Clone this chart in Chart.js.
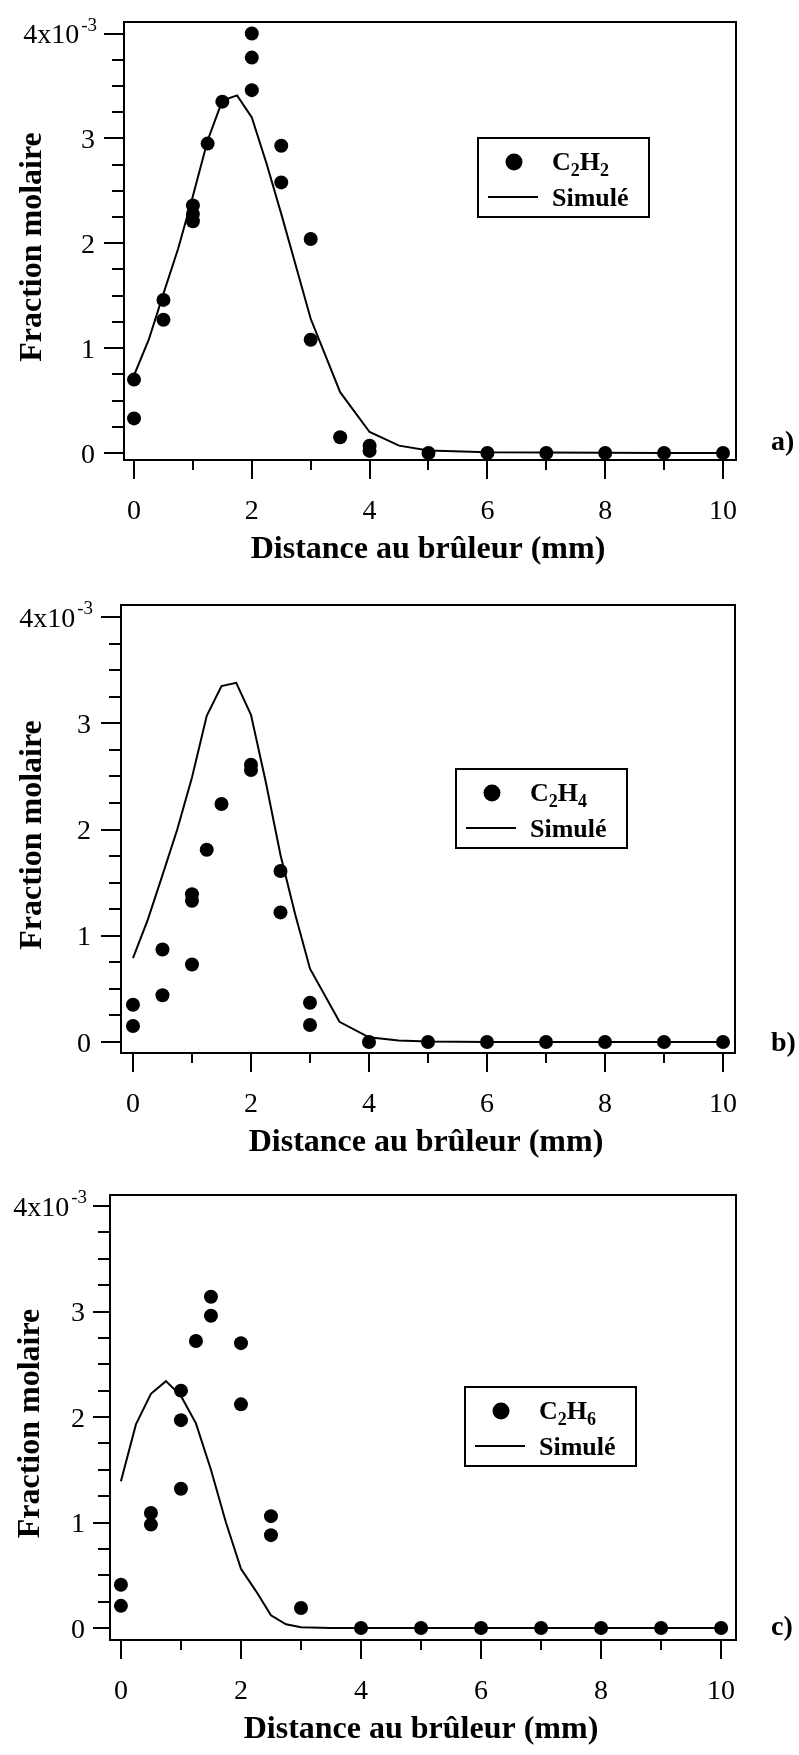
<!DOCTYPE html>
<html><head><meta charset="utf-8">
<script src="https://cdn.jsdelivr.net/npm/chart.js@4.4.0/dist/chart.umd.min.js"></script>
<style>
html,body{margin:0;padding:0;background:#fff;}
body{width:799px;height:1755px;position:relative;overflow:hidden;}
canvas{position:absolute;left:0;}
</style></head><body>
<canvas id="ca" width="799" height="587" style="top:0px"></canvas>
<canvas id="cb" width="799" height="586" style="top:587px"></canvas>
<canvas id="cc" width="799" height="582" style="top:1173px"></canvas>
<script>
// ---------- tick definitions ----------
const xTicksMajor = [0, 2, 4, 6, 8, 10];
const xTickLabels = ['0', '2', '4', '6', '8', '10'];
const xTicksMinor = [1, 3, 5, 7, 9];
const yTicksMajor = [0, 1e-3, 2e-3, 3e-3, 4e-3];
const yTickLabels = ['0', '1', '2', '3', '4x10'];
const yTickSup = ['', '', '', '', '-3'];
const yTicksMinor = [0.25e-3, 0.5e-3, 0.75e-3, 1.25e-3, 1.5e-3, 1.75e-3, 2.25e-3, 2.5e-3, 2.75e-3, 3.25e-3, 3.5e-3, 3.75e-3];

const xTitle = 'Distance au brûleur (mm)';
const yTitle = 'Fraction molaire';
const simLabel = 'Simulé';

// ---------- simulated profiles (common x grid) ----------
const simX = [0, 0.25, 0.5, 0.75, 1, 1.25, 1.5, 1.75, 2, 2.25, 2.5, 2.75, 3, 3.5, 4, 4.5, 5, 6, 7, 8, 9, 10];
const simC2H2 = [0.74e-3, 1.08e-3, 1.52e-3, 1.95e-3, 2.45e-3, 2.98e-3, 3.36e-3, 3.41e-3, 3.20e-3, 2.76e-3, 2.28e-3, 1.78e-3, 1.28e-3, 0.58e-3, 0.20e-3, 0.07e-3, 0.025e-3, 0.008e-3, 0.004e-3, 0.002e-3, 0.001e-3, 0];
const simC2H4 = [0.79e-3, 1.15e-3, 1.57e-3, 2.00e-3, 2.49e-3, 3.07e-3, 3.35e-3, 3.38e-3, 3.08e-3, 2.45e-3, 1.76e-3, 1.20e-3, 0.69e-3, 0.19e-3, 0.044e-3, 0.015e-3, 0.005e-3, 0, 0, 0, 0, 0];
const simC2H6 = [1.39e-3, 1.93e-3, 2.22e-3, 2.34e-3, 2.20e-3, 1.94e-3, 1.50e-3, 1.00e-3, 0.56e-3, 0.35e-3, 0.12e-3, 0.035e-3, 0.007e-3, 0, 0, 0, 0, 0, 0, 0, 0, 0];

// ---------- measured points ----------
const expX_C2H2 = [0, 0, 0.5, 0.5, 1, 1, 1, 1.25, 1.5, 2, 2, 2, 2.5, 2.5, 3, 3, 3.5, 4, 4, 5, 6, 7, 8, 9, 10];
const expY_C2H2 = [0.70e-3, 0.33e-3, 1.46e-3, 1.27e-3, 2.36e-3, 2.28e-3, 2.21e-3, 2.95e-3, 3.35e-3, 4.00e-3, 3.77e-3, 3.46e-3, 2.93e-3, 2.58e-3, 2.04e-3, 1.08e-3, 0.15e-3, 0.07e-3, 0.02e-3, 0, 0, 0, 0, 0, 0];

const expX_C2H4 = [0, 0, 0.5, 0.5, 1, 1, 1, 1.25, 1.5, 2, 2, 2.5, 2.5, 3, 3, 4, 5, 6, 7, 8, 9, 10];
const expY_C2H4 = [0.35e-3, 0.15e-3, 0.87e-3, 0.44e-3, 1.39e-3, 1.33e-3, 0.73e-3, 1.81e-3, 2.24e-3, 2.61e-3, 2.56e-3, 1.61e-3, 1.22e-3, 0.37e-3, 0.16e-3, 0, 0, 0, 0, 0, 0, 0];

const expX_C2H6 = [0, 0, 0.5, 0.5, 1, 1, 1, 1.25, 1.5, 1.5, 2, 2, 2.5, 2.5, 3, 4, 5, 6, 7, 8, 9, 10];
const expY_C2H6 = [0.41e-3, 0.21e-3, 1.09e-3, 0.98e-3, 2.25e-3, 1.97e-3, 1.32e-3, 2.72e-3, 3.14e-3, 2.96e-3, 2.70e-3, 2.12e-3, 1.06e-3, 0.88e-3, 0.19e-3, 0, 0, 0, 0, 0, 0, 0];

const species = ['C2H2', 'C2H4', 'C2H6'];
const panelTags = ['a)', 'b)', 'c)'];

const SERIF = '"Liberation Serif", "Times New Roman", "DejaVu Serif", serif';

function pts(xs, ys) { return xs.map((x, i) => ({ x: x, y: ys[i] })); }

function drawFormula(ctx, text, x, base, size) {
  let tx = x;
  for (const ch of text) {
    if (/[0-9]/.test(ch)) {
      ctx.font = 'bold ' + Math.round(size * 0.68) + 'px ' + SERIF;
      ctx.fillText(ch, tx, base + size * 0.24);
      tx += ctx.measureText(ch).width;
    } else {
      ctx.font = 'bold ' + size + 'px ' + SERIF;
      ctx.fillText(ch, tx, base);
      tx += ctx.measureText(ch).width;
    }
  }
}

function makePanel(id, p) {
  // pixel frame geometry -> axis ranges (in units of 1e-3)
  const per = (p.y0 - p.y4) / 4;
  const yMax = (4 + (p.y4 - p.top) / per) * 1e-3;
  const yMin = -((p.bottom - p.y0) / per) * 1e-3;

  const deco = {
    id: 'deco',
    beforeDatasetsDraw(chart) {
      const ctx = chart.ctx, a = chart.chartArea;
      const xs = chart.scales.x, ys = chart.scales.y;
      ctx.save();
      ctx.strokeStyle = '#000';
      ctx.lineWidth = 2;
      ctx.strokeRect(a.left, a.top, a.right - a.left, a.bottom - a.top);
      ctx.beginPath();
      xTicksMajor.forEach(v => { const q = Math.round(xs.getPixelForValue(v)); ctx.moveTo(q, a.bottom); ctx.lineTo(q, a.bottom + 19); });
      xTicksMinor.forEach(v => { const q = Math.round(xs.getPixelForValue(v)); ctx.moveTo(q, a.bottom); ctx.lineTo(q, a.bottom + 10); });
      yTicksMajor.forEach(v => { const q = Math.round(ys.getPixelForValue(v)); ctx.moveTo(a.left, q); ctx.lineTo(a.left - p.yMajLen, q); });
      yTicksMinor.forEach(v => { const q = Math.round(ys.getPixelForValue(v)); ctx.moveTo(a.left, q); ctx.lineTo(a.left - 12, q); });
      ctx.stroke();
      ctx.restore();
    },
    afterDraw(chart) {
      const ctx = chart.ctx, a = chart.chartArea;
      const xs = chart.scales.x, ys = chart.scales.y;
      ctx.save();
      ctx.fillStyle = '#000';
      ctx.strokeStyle = '#000';
      // x tick labels
      ctx.font = '28px ' + SERIF;
      ctx.textAlign = 'center';
      ctx.textBaseline = 'alphabetic';
      xTicksMajor.forEach((v, i) => ctx.fillText(xTickLabels[i], xs.getPixelForValue(v), a.bottom + 59));
      // y tick labels
      const rx = a.left - p.yLabGap;
      yTicksMajor.forEach((v, i) => {
        const q = ys.getPixelForValue(v);
        ctx.textAlign = 'right';
        if (yTickSup[i]) {
          ctx.font = '19px ' + SERIF;
          const sw = ctx.measureText(yTickSup[i]).width;
          ctx.fillText(yTickSup[i], rx + 2, q - 3);
          ctx.font = '28px ' + SERIF;
          ctx.fillText(yTickLabels[i], rx - sw, q + 9.5);
        } else {
          ctx.font = '28px ' + SERIF;
          ctx.fillText(yTickLabels[i], rx, q + 9.5);
        }
      });
      // axis titles
      ctx.font = 'bold 32px ' + SERIF;
      ctx.textAlign = 'center';
      ctx.fillText(xTitle, (a.left + a.right) / 2 - 2, a.bottom + 98);
      ctx.save();
      ctx.translate(p.yTitleX, (a.top + a.bottom) / 2 + 6);
      ctx.rotate(-Math.PI / 2);
      ctx.fillText(yTitle, 0, 0);
      ctx.restore();
      // panel tag
      ctx.font = 'bold 28px ' + SERIF;
      ctx.textAlign = 'left';
      ctx.fillText(p.tag, 771, ys.getPixelForValue(0) + p.tagDy);
      // legend
      const ds0 = chart.data.datasets[0], ds1 = chart.data.datasets[1];
      const L = p.legend;
      ctx.lineWidth = 2;
      ctx.strokeRect(L.x, L.y, 171, 79);
      ctx.beginPath();
      ctx.fillStyle = ds0.pointBackgroundColor;
      ctx.arc(L.x + 36, L.y + 24, 8.5, 0, Math.PI * 2);
      ctx.fill();
      ctx.beginPath();
      ctx.strokeStyle = ds1.borderColor;
      ctx.lineWidth = ds1.borderWidth;
      ctx.moveTo(L.x + 10, L.y + 59);
      ctx.lineTo(L.x + 60, L.y + 59);
      ctx.stroke();
      ctx.fillStyle = '#000';
      ctx.textAlign = 'left';
      drawFormula(ctx, ds0.label, L.x + 74, L.y + 32, 26);
      ctx.font = 'bold 26px ' + SERIF;
      ctx.fillText(ds1.label, L.x + 74, L.y + 68);
      ctx.restore();
    }
  };

  return new Chart(document.getElementById(id), {
    type: 'scatter',
    data: {
      datasets: [
        {
          label: p.name,
          data: pts(p.ex, p.ey),
          showLine: false,
          pointRadius: 7,
          pointHoverRadius: 7,
          pointBackgroundColor: '#000',
          pointBorderColor: '#000',
          pointBorderWidth: 0,
          order: 1
        },
        {
          label: simLabel,
          data: pts(simX, p.sim),
          showLine: true,
          borderColor: '#000',
          borderWidth: 2,
          pointRadius: 0,
          tension: 0,
          fill: false,
          order: 2
        }
      ]
    },
    options: {
      responsive: false,
      animation: false,
      devicePixelRatio: 1,
      layout: { padding: { left: p.left, right: 799 - p.right, top: p.top, bottom: p.h - p.bottom } },
      scales: {
        x: { type: 'linear', display: false, min: p.xmin, max: p.xmax },
        y: { type: 'linear', display: false, min: yMin, max: yMax }
      },
      plugins: { legend: { display: false }, tooltip: { enabled: false } }
    },
    plugins: [deco]
  });
}

makePanel('ca', { name: species[0], tag: panelTags[0], ex: expX_C2H2, ey: expY_C2H2, sim: simC2H2,
  left: 124, right: 736, h: 587, top: 22, y4: 33.5, y0: 453, bottom: 460,
  xmin: -0.170, xmax: 10.221, yMajLen: 20, yLabGap: 29, yTitleX: 41, tagDy: -3,
  legend: { x: 478, y: 138 } });
makePanel('cb', { name: species[1], tag: panelTags[1], ex: expX_C2H4, ey: expY_C2H4, sim: simC2H4,
  left: 121, right: 735, h: 586, top: 18, y4: 30, y0: 455, bottom: 466,
  xmin: -0.203, xmax: 10.203, yMajLen: 20, yLabGap: 30, yTitleX: 41, tagDy: 9,
  legend: { x: 456, y: 182 } });
makePanel('cc', { name: species[2], tag: panelTags[2], ex: expX_C2H6, ey: expY_C2H6, sim: simC2H6,
  left: 110, right: 736, h: 582, top: 22, y4: 33, y0: 455, bottom: 467,
  xmin: -0.182, xmax: 10.248, yMajLen: 17, yLabGap: 25, yTitleX: 39, tagDy: 7,
  legend: { x: 465, y: 214 } });
</script>
</body></html>
